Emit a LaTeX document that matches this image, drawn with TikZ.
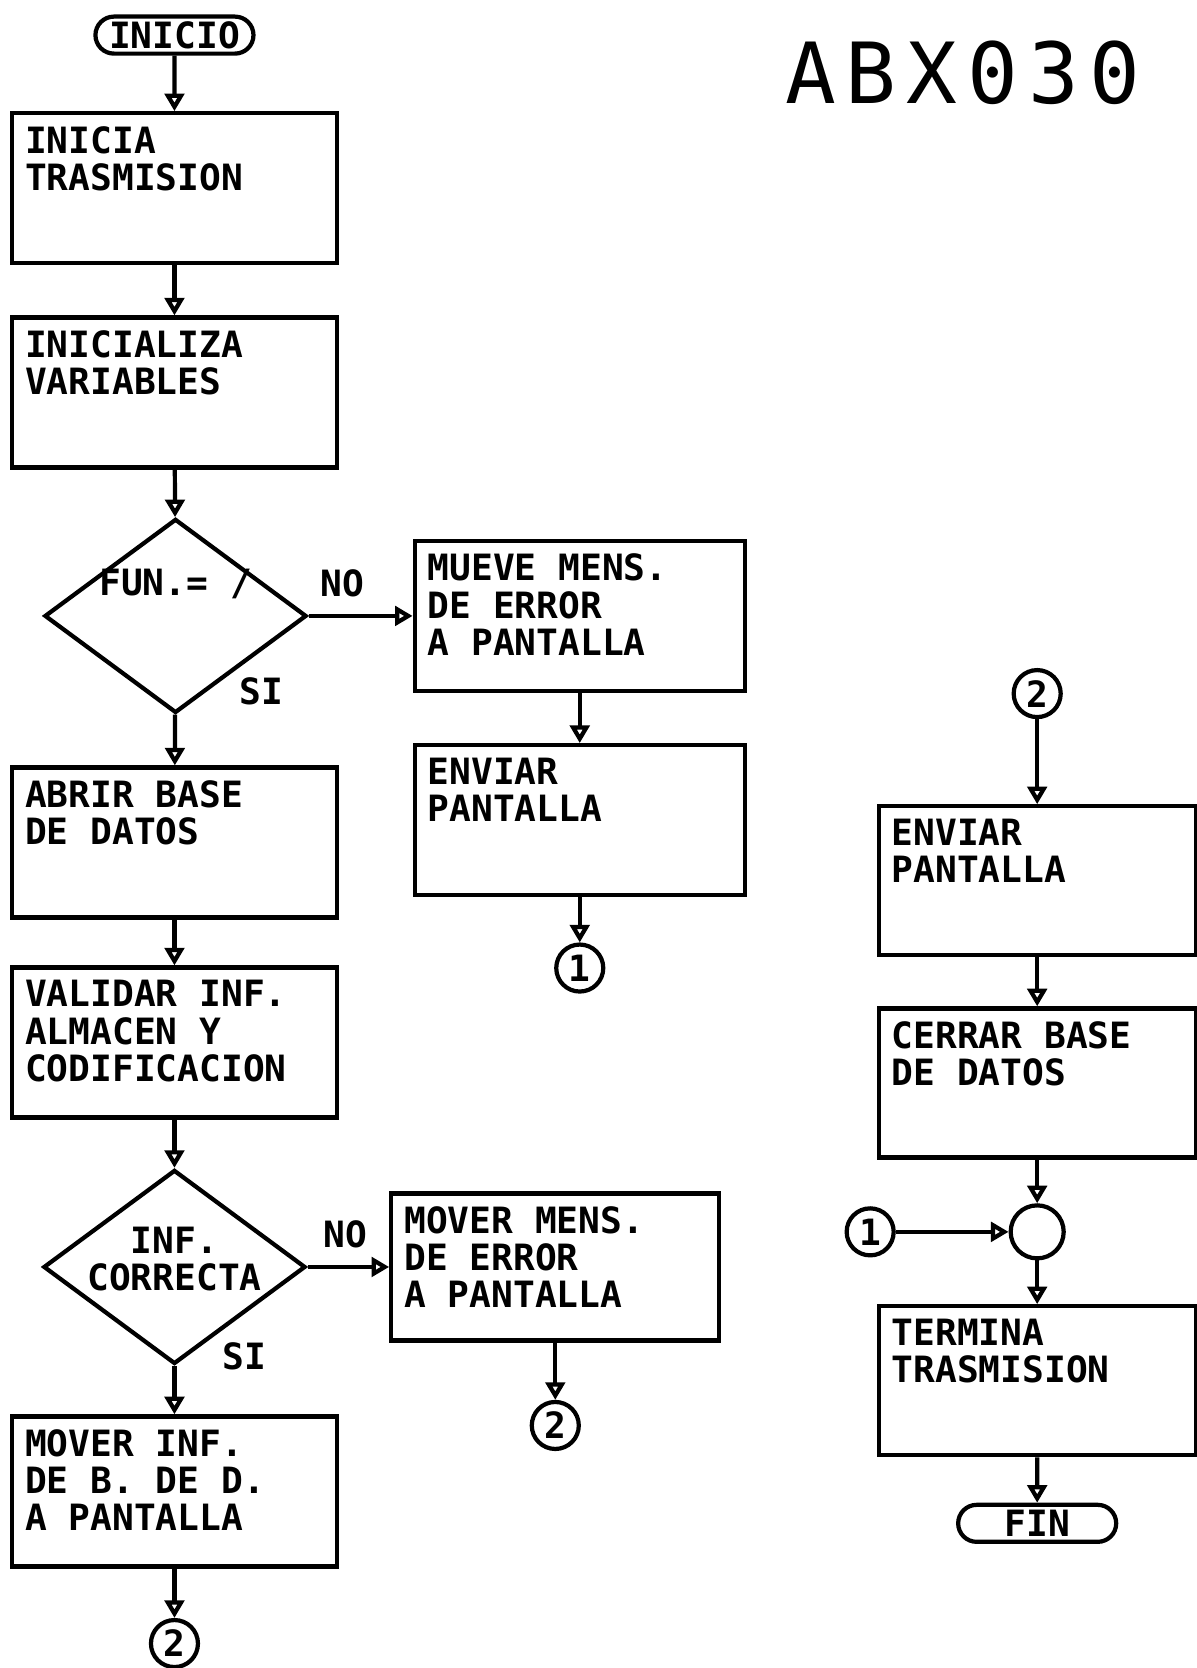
\documentclass[tikz,border=0pt]{standalone}
\usepackage{fontspec}
\setmonofont{DejaVu Sans Mono}
\newfontfamily\titlefont[LetterSpace=12]{DejaVu Sans Mono}
\usepackage{tikz}
\usetikzlibrary{arrows.meta,positioning,shapes.geometric,shapes.misc}

\begin{document}
\begin{tikzpicture}[x=0.01064cm,y=-0.01064cm,
    font=\ttfamily\bfseries\fontsize{10.3}{10.6}\selectfont,line width=1.2pt,
    flow/.style={-{Triangle[open,length=5pt,width=5.5pt]}},
    procbox/.style={draw,rectangle,minimum height=1.5cm,inner sep=0pt},
    boxtext/.style={anchor=north west,align=left,inner sep=0.13cm},
    decision/.style={draw,diamond,minimum width=2.62cm,minimum height=1.94cm,inner sep=0pt},
    terminal/.style={draw,rounded rectangle,minimum width=1.58cm,minimum height=0.37cm,inner sep=0pt},
    connector/.style={draw,circle,minimum size=0.47cm,inner sep=0pt},
    answer/.style={inner sep=0pt,align=center}]
    \useasboundingbox (0,0) rectangle (1125,1568);
    % left column
    \node[terminal] (inicio) at (164,33) {INICIO};
    \node[procbox,minimum width=3.245cm,label={[boxtext]north west:{INICIA\\TRASMISION}}] (inicia) at (164,177) {};
    \node[procbox,minimum width=3.245cm,label={[boxtext]north west:{INICIALIZA\\VARIABLES}}] (variables) at (164,369) {};
    \node[decision,label={[answer,yshift=0.32cm]center:{FUN.= /}}] (fun) at (165,579) {};
    \node[procbox,minimum width=3.245cm,label={[boxtext]north west:{ABRIR BASE\\DE DATOS}}] (abrir) at (164,792) {};
    \node[procbox,minimum width=3.245cm,label={[boxtext]north west:{VALIDAR INF.\\ALMACEN Y\\CODIFICACION}}] (validar) at (164,980) {};
    \node[decision,label={[answer,yshift=0.08cm]center:{INF.\\CORRECTA}}] (correcta) at (164,1191) {};
    \node[procbox,minimum width=3.245cm,label={[boxtext]north west:{MOVER INF.\\DE B. DE D.\\A PANTALLA}}] (moverinf) at (164,1402) {};
    \node[connector] (dosA) at (164,1545) {2};
    % middle column
    \node[procbox,minimum width=3.3cm,label={[boxtext]north west:{MUEVE MENS.\\DE ERROR\\A PANTALLA}}] (mueve) at (545,579) {};
    \node[procbox,minimum width=3.3cm,label={[boxtext]north west:{ENVIAR\\PANTALLA}}] (enviarA) at (545,771) {};
    \node[connector] (unoA) at (545,910) {1};
    \node[procbox,minimum width=3.28cm,minimum height=1.47cm,label={[boxtext]north west:{MOVER MENS.\\DE ERROR\\A PANTALLA}}] (movermens) at (522,1191) {};
    \node[connector] (dosB) at (522,1340) {2};
    % right column
    \node[font=\titlefont\fontsize{24}{24}\selectfont] (titulo) at (905,68) {ABX030};
    \node[connector] (dosC) at (975,652) {2};
    \node[procbox,minimum width=3.17cm,minimum height=1.49cm,label={[boxtext]north west:{ENVIAR\\PANTALLA}}] (enviarB) at (975,828) {};
    \node[procbox,minimum width=3.17cm,minimum height=1.49cm,label={[boxtext]north west:{CERRAR BASE\\DE DATOS}}] (cerrar) at (975,1018) {};
    \node[connector,minimum size=0.53cm] (junta) at (975,1158) {};
    \node[connector] (unoB) at (818,1158) {1};
    \node[procbox,minimum width=3.17cm,minimum height=1.49cm,label={[boxtext]north west:{TERMINA\\TRASMISION}}] (termina) at (975,1298) {};
    \node[terminal] (fin) at (975,1432) {FIN};
    % answers
    \node[answer] (noA) at (322,548) {NO};
    \node[answer] (siA) at (246,650) {SI};
    \node[answer] (noB) at (325,1160) {NO};
    \node[answer] (siB) at (230,1275) {SI};
    % connectors
    \draw[flow] (inicio) -- (inicia);
    \draw[flow] (inicia) -- (variables);
    \draw[flow] (variables) -- (fun);
    \draw[flow] (fun) -- (abrir);
    \draw[flow] (abrir) -- (validar);
    \draw[flow] (validar) -- (correcta);
    \draw[flow] (correcta) -- (moverinf);
    \draw[flow] (moverinf) -- (dosA);
    \draw[flow] (fun.east) -- (mueve.west);
    \draw[flow] (mueve) -- (enviarA);
    \draw[flow] (enviarA) -- (unoA);
    \draw[flow] (correcta.east) -- (movermens.west);
    \draw[flow] (movermens) -- (dosB);
    \draw[flow] (dosC) -- (enviarB);
    \draw[flow] (enviarB) -- (cerrar);
    \draw[flow] (cerrar) -- (junta);
    \draw[flow] (unoB) -- (junta);
    \draw[flow] (junta) -- (termina);
    \draw[flow] (termina) -- (fin);
\end{tikzpicture}
\end{document}
